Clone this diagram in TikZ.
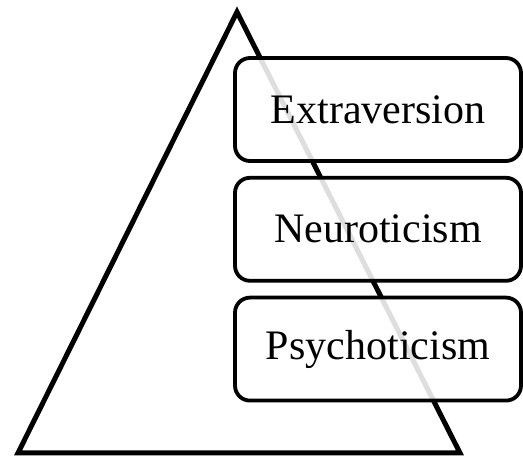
\documentclass[tikz,border=0pt]{standalone}
\usepackage{fontspec}
\setmainfont{Liberation Serif}
\usetikzlibrary{positioning}

\begin{document}
\begin{tikzpicture}[x=1pt,y=-1pt]
      \tikzset{trait/.style={draw,line width=3.8pt,rounded corners=15pt,
        fill=white,fill opacity=0.87,text opacity=1,
        minimum width=286pt,minimum height=103pt,inner sep=0pt,
        font=\fontsize{42}{50}\selectfont}}
      \useasboundingbox (0,0) rectangle (523,457);
      % pyramid
      \draw[line width=5pt,line join=miter] (237,12) -- (460,453) -- (18,453) -- cycle;
      \node[trait] (extra) at (378,109.5) {Extraversion};
      \node[trait,below=13pt of extra] (neuro) {Neuroticism};
      \node[trait,below=13pt of neuro] (psycho) {Psychoticism};
\end{tikzpicture}
\end{document}
